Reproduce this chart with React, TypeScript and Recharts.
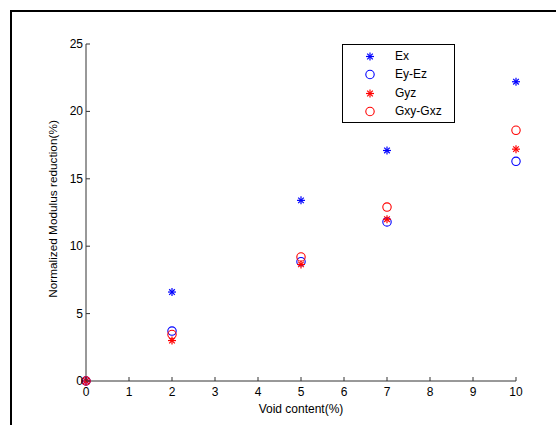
import React from "react";
import { ScatterChart, Scatter, XAxis, YAxis } from "recharts";

const voidContent = [0, 2, 5, 7, 10];
const ex = [0, 6.6, 13.4, 17.1, 22.2];
const eyEz = [0, 3.7, 8.85, 11.8, 16.3];
const gyz = [0, 3.0, 8.65, 12.0, 17.2];
const gxyGxz = [0, 3.45, 9.2, 12.9, 18.6];

const xTicks = [0, 1, 2, 3, 4, 5, 6, 7, 8, 9, 10];
const yTicks = [0, 5, 10, 15, 20, 25];

const FONT = "'Liberation Sans', Arial, sans-serif";

type Kind = "star" | "circle";

const series: { name: string; values: number[]; color: string; kind: Kind }[] = [
  { name: "Ex", values: ex, color: "#0000ff", kind: "star" },
  { name: "Ey-Ez", values: eyEz, color: "#0000ff", kind: "circle" },
  { name: "Gyz", values: gyz, color: "#ff0000", kind: "star" },
  { name: "Gxy-Gxz", values: gxyGxz, color: "#ff0000", kind: "circle" },
];

const toPoints = (values: number[]) => voidContent.map((x, i) => ({ x, y: values[i] }));

function Marker({ cx, cy, color, kind }: { cx: number; cy: number; color: string; kind: Kind }) {
  if (kind === "circle") {
    return <circle cx={cx} cy={cy} r={4.2} fill="none" stroke={color} strokeWidth={1.1} />;
  }
  const s = 4;
  const d = 2.8;
  return (
    <g stroke={color} strokeWidth={1.2}>
      <line x1={cx - s} y1={cy} x2={cx + s} y2={cy} />
      <line x1={cx} y1={cy - s} x2={cx} y2={cy + s} />
      <line x1={cx - d} y1={cy - d} x2={cx + d} y2={cy + d} />
      <line x1={cx - d} y1={cy + d} x2={cx + d} y2={cy - d} />
    </g>
  );
}

// MATLAB style ticks point into the plot
const XTick = (props: any) => {
  const { x, y, payload } = props;
  return (
    <g>
      <line x1={x} y1={y} x2={x} y2={y - 4} stroke="#333" strokeWidth={1} />
      <text x={x} y={y + 15} textAnchor="middle" fontSize={12} fontFamily={FONT} fill="#000">
        {payload.value}
      </text>
    </g>
  );
};

const YTick = (props: any) => {
  const { x, y, payload } = props;
  return (
    <g>
      <line x1={x} y1={y} x2={x + 4} y2={y} stroke="#333" strokeWidth={1} />
      <text x={x - 3} y={y + 4} textAnchor="end" fontSize={12} fontFamily={FONT} fill="#000">
        {payload.value}
      </text>
    </g>
  );
};

export default function App() {
  return (
    <div style={{ position: "absolute", left: 0, top: 0, width: 556, height: 425, background: "#fff", overflow: "hidden" }}>
      <div
        style={{
          position: "absolute",
          left: 10,
          top: 10,
          width: 560,
          height: 430,
          borderLeft: "2px solid #000",
          borderTop: "2px solid #000",
        }}
      />
      <ScatterChart
        width={556}
        height={425}
        margin={{ top: 44, right: 40, bottom: 43, left: 85 }}
        style={{ position: "absolute", left: 0, top: 0 }}
      >
        <XAxis
          type="number"
          dataKey="x"
          domain={[0, 10]}
          ticks={xTicks}
          height={1}
          tickSize={0}
          tickMargin={0}
          tickLine={false}
          tick={<XTick />}
          axisLine={{ stroke: "#333", strokeWidth: 1 }}
          interval={0}
        />
        <YAxis
          type="number"
          dataKey="y"
          domain={[0, 25]}
          ticks={yTicks}
          width={1}
          tickSize={0}
          tickMargin={0}
          tickLine={false}
          tick={<YTick />}
          axisLine={{ stroke: "#333", strokeWidth: 1 }}
          interval={0}
        />
        {series.map((s) => (
          <Scatter
            key={s.name}
            name={s.name}
            data={toPoints(s.values)}
            isAnimationActive={false}
            shape={(p: any) => <Marker cx={p.cx} cy={p.cy} color={s.color} kind={s.kind} />}
          />
        ))}
      </ScatterChart>
      <div
        style={{
          position: "absolute",
          left: 301,
          top: 402,
          transform: "translateX(-50%)",
          fontFamily: FONT,
          fontSize: 12,
          whiteSpace: "nowrap",
        }}
      >
        Void content(%)
      </div>
      <div
        style={{
          position: "absolute",
          left: 53,
          top: 209,
          transform: "translate(-50%, -50%) rotate(-90deg)",
          fontFamily: FONT,
          fontSize: 11.8,
          whiteSpace: "nowrap",
        }}
      >
        Normalized Modulus reduction(%)
      </div>
      <div
        style={{
          position: "absolute",
          left: 342,
          top: 44,
          width: 111,
          height: 77,
          border: "1.5px solid #000",
          background: "#fff",
        }}
      >
        {series.map((s, i) => (
          <div key={s.name} style={{ position: "absolute", left: 0, top: 2 + i * 18.3, height: 18, width: 111 }}>
            <svg width={20} height={18} style={{ position: "absolute", left: 17, top: 0 }}>
              <Marker cx={10} cy={9.5} color={s.color} kind={s.kind} />
            </svg>
            <span
              style={{
                position: "absolute",
                left: 52,
                top: 2,
                fontFamily: FONT,
                fontSize: 12,
                lineHeight: "14px",
                whiteSpace: "nowrap",
              }}
            >
              {s.name}
            </span>
          </div>
        ))}
      </div>
    </div>
  );
}
